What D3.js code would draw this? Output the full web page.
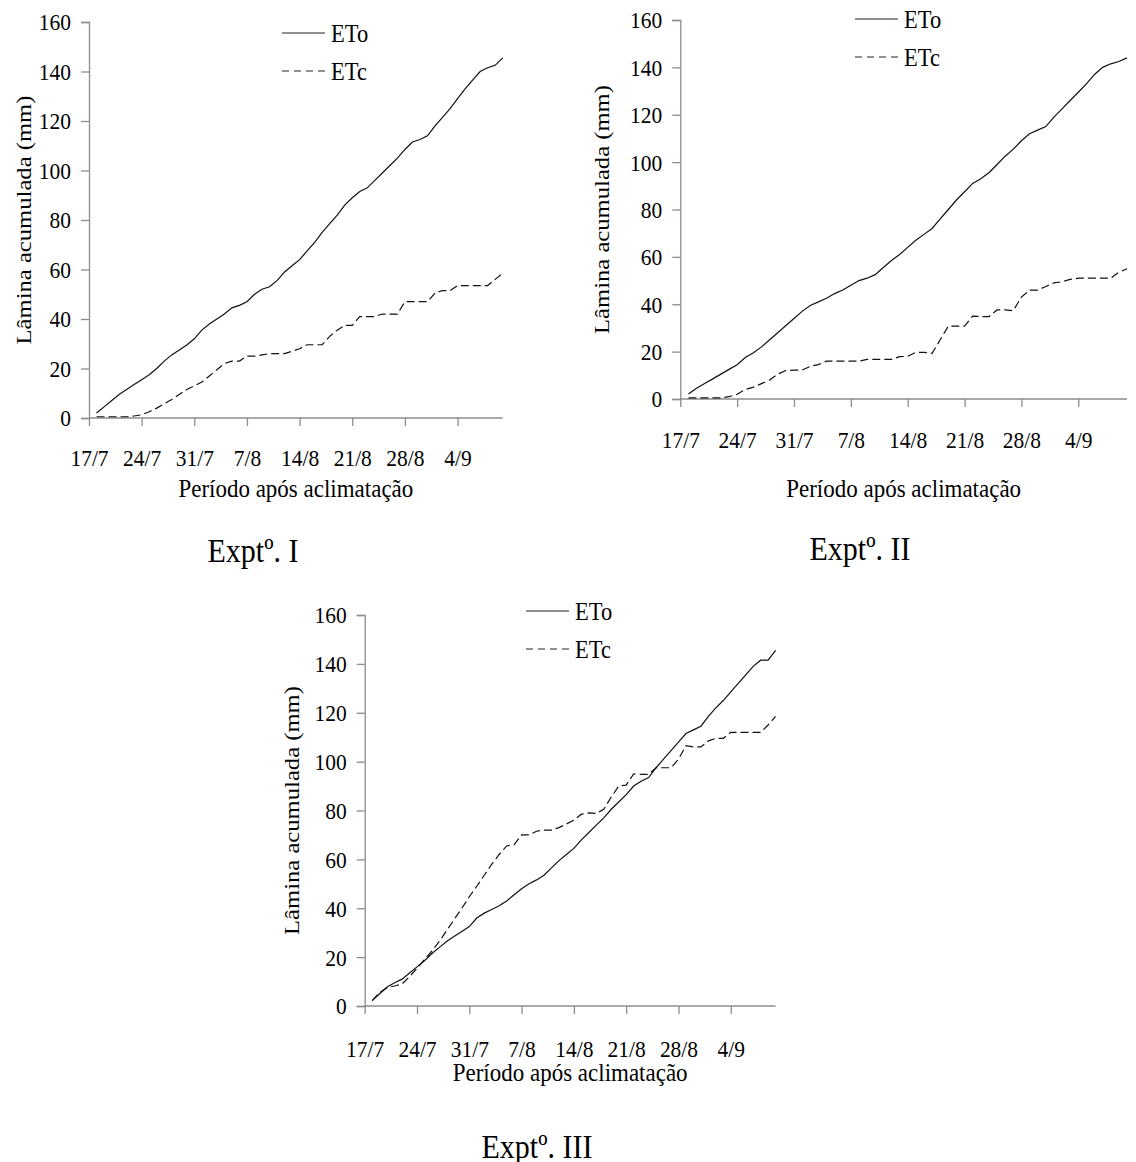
<!DOCTYPE html>
<html>
<head>
<meta charset="utf-8">
<script src="https://cdn.jsdelivr.net/npm/d3@7"></script>
<style>
  body { margin: 0; background: #fff; }
  text { font-family: "Liberation Serif", "Times New Roman", serif; fill: #000; }
</style>
</head>
<body>
<script>
// Days after 17/7 (one value per day, 18/7 .. 10/9)
var days = d3.range(1, 56);

// x tick positions (days after 17/7) and their labels
var tickDays = [0, 7, 14, 21, 28, 35, 42, 49];
var tickLabels = ["17/7", "24/7", "31/7", "7/8", "14/8", "21/8", "28/8", "4/9"];
var yTicks = [0, 20, 40, 60, 80, 100, 120, 140, 160];
var seriesNames = ["ETo", "ETc"];
var titles = ["Exptº. I", "Exptº. II", "Exptº. III"];

// Expt I
var eto1 = [2, 4.5, 7, 9.5, 11.5, 13.5, 15.5, 17.5, 20, 23, 25.5, 27.5, 29.5, 32,
  35.5, 38, 40, 42, 44.5, 45.5, 47, 50, 52, 53, 55.5, 59, 61.5, 64, 67.5, 71, 75,
  78.5, 82, 86, 89, 91.5, 93, 96, 99, 102, 105, 108.5, 111.5, 112.5, 114, 118,
  121.5, 125, 129, 133, 136.5, 140, 141.5, 142.5, 145.5];
var etc1 = [0.5, 0.5, 0.5, 0.5, 0.5, 0.8, 1.3, 2.5, 4, 5.8, 7.5, 9.5, 11.5, 13,
  14.5, 17, 19.5, 22, 23, 23, 25, 25, 25.5, 26, 26, 26, 27, 28, 29.6, 29.6, 29.6,
  33, 35.5, 37.4, 37.4, 41, 41, 41, 42, 42, 42, 47, 47, 47, 47, 50.5, 51.5, 51.5,
  53.5, 53.5, 53.5, 53.5, 53.5, 56, 58.5];

// Expt II
var eto2 = [2.1, 4.5, 6.5, 8.5, 10.5, 12.5, 14.5, 17.5, 19.5, 22, 25, 28, 31, 34,
  37, 39.5, 41, 42.5, 44.5, 46, 48, 50, 51, 52.5, 55.5, 58.5, 61, 64, 67, 69.5,
  72, 76, 80, 84, 87.5, 91, 93, 95.5, 99, 102.5, 105.5, 109, 112, 113.5, 115,
  119, 122.5, 126, 129.5, 133, 137, 140, 141.5, 142.5, 144];
var etc2 = [0.5, 0.5, 0.5, 0.5, 0.5, 1, 2, 4, 5, 6.5, 8, 10.5, 12, 12.2, 12.2,
  13.8, 14.5, 16, 16, 16, 16, 16, 16.7, 16.7, 16.7, 16.7, 17.9, 18, 19.7, 19.7,
  19.3, 25, 30.8, 30.8, 30.8, 35, 34.8, 34.8, 37.6, 37.6, 37.3, 43, 46, 46, 47.5,
  49, 49.5, 50.5, 51, 51, 51, 51, 51, 53.5, 55];

// Expt III
var eto3 = [2.2, 5, 7.8, 9.5, 11, 13.5, 16, 18.5, 21.5, 24, 26.5, 28.5, 30.5, 32.5,
  36, 38, 39.5, 41, 43, 45.5, 48, 50, 51.6, 53.5, 56.5, 59.5, 62, 64.5, 68, 71,
  74, 77, 80.5, 83.5, 86.5, 90, 92, 93.5, 97.5, 101, 104.5, 108, 111.5, 113,
  114.5, 118.5, 122, 125, 128.5, 132, 135.5, 139, 141.5, 141.5, 145.5];
var etc3 = [2.2, 5.5, 7.5, 8.2, 9, 12, 15.4, 19, 22.5, 26.5, 31, 35.5, 40, 44.7,
  49, 53.5, 58, 62, 65.5, 66, 70, 70, 71.5, 72, 72, 73, 74.5, 76, 78.5, 79, 78.8,
  80.5, 85.5, 90, 90.4, 95, 94.8, 94.8, 97.5, 97.5, 97.5, 101, 106.5, 106, 106,
  108.5, 109.5, 109.5, 112, 112, 112, 112, 112, 115, 118.5];

var width = 1136;
var height = 1162;

// the original figure is slightly stretched vertically
var sy = 1.12;

var svg = d3.select("body")
  .append("svg")
  .attr("width", width)
  .attr("height", height);

// panel layout (pixel boxes of each plot area)
var panels = [
  { x0: 89, x1: 502.7, y0: 418, y1: 22, eto: eto1, etc: etc1,
    tickY: 48, xTitleY: 79, titleX: 253, titleY: 562, yTitleX: 31,
    legX: 282, legY: 33 },
  { x0: 680.3, x1: 1127, y0: 399, y1: 20, eto: eto2, etc: etc2,
    tickY: 49, xTitleY: 98, titleX: 860, titleY: 560, yTitleX: 609,
    legX: 855, legY: 19 },
  { x0: 364.7, x1: 775.6, y0: 1006, y1: 615, eto: eto3, etc: etc3,
    tickY: 51, xTitleY: 75, titleX: 537, titleY: 1158, yTitleX: 299,
    legX: 526, legY: 611 }
];

var axisColor = "#8c8c8c";

// put a text at (x, y) with the vertical stretch
function place(sel, x, y) {
  sel.attr("x", 0).attr("y", 0)
    .attr("transform", "translate(" + x + "," + y + ") scale(1," + sy + ")");
}

panels.forEach(function(p, k) {
  var x = d3.scaleLinear().domain([0, 55]).range([p.x0, p.x1]);
  var y = d3.scaleLinear().domain([0, 160]).range([p.y0, p.y1]);

  var g = svg.append("g");

  // y axis
  var yAxis = g.append("g")
    .attr("transform", "translate(" + p.x0 + ",0)")
    .call(d3.axisLeft(y).tickValues(yTicks).tickSize(8).tickPadding(10));
  yAxis.attr("font-family", null).attr("font-size", null);
  yAxis.selectAll("line, path").attr("stroke", axisColor).attr("stroke-width", 1.3);
  yAxis.selectAll("text")
    .attr("dy", null)
    .attr("dominant-baseline", "central")
    .style("font-size", "21.5px")
    .attr("fill", "#000")
    .each(function() { place(d3.select(this), -18, 0); });

  // x axis
  var xAxis = g.append("g")
    .attr("transform", "translate(0," + p.y0 + ")")
    .call(d3.axisBottom(x).tickValues(tickDays).tickSize(8)
      .tickFormat(function(d, i) { return tickLabels[i]; }));
  xAxis.attr("font-family", null).attr("font-size", null);
  xAxis.select(".domain").attr("d", "M" + p.x0 + ",0H" + p.x1);
  xAxis.selectAll("line, path").attr("stroke", axisColor).attr("stroke-width", 1.3);
  xAxis.selectAll("text")
    .attr("dy", null)
    .style("font-size", "21.5px")
    .attr("fill", "#000")
    .each(function() { place(d3.select(this), 0, p.tickY); });

  // axis titles
  g.append("text")
    .attr("text-anchor", "middle")
    .style("font-size", "23px")
    .text("Período após aclimatação")
    .call(place, (p.x0 + p.x1) / 2, p.y0 + p.xTitleY);

  g.append("text")
    .attr("transform", "translate(" + p.yTitleX + "," + (p.y0 + p.y1) / 2 + ") rotate(-90) scale(" + sy + ",1)")
    .attr("text-anchor", "middle")
    .style("font-size", "22px")
    .text("Lâmina acumulada (mm)");

  // lines
  var line = d3.line()
    .x(function(d, i) { return x(days[i]); })
    .y(function(d) { return y(d); });

  g.append("path")
    .datum(p.eto)
    .attr("d", line)
    .attr("fill", "none")
    .attr("stroke", "#111")
    .attr("stroke-width", 1.2);

  g.append("path")
    .datum(p.etc)
    .attr("d", line)
    .attr("fill", "none")
    .attr("stroke", "#111")
    .attr("stroke-width", 1.2)
    .attr("stroke-dasharray", "8,4");

  // legend
  var legend = g.selectAll(".leg")
    .data(seriesNames)
    .enter()
    .append("g")
    .attr("transform", function(d, i) { return "translate(" + p.legX + "," + (p.legY + i * 38) + ")"; });
  legend.append("line")
    .attr("x1", 0).attr("x2", 43)
    .attr("stroke", "#222")
    .attr("stroke-width", 1.2)
    .attr("stroke-dasharray", function(d, i) { return i ? "7,5" : null; });
  legend.append("text")
    .style("font-size", "22.5px")
    .text(function(d) { return d; })
    .each(function() { place(d3.select(this), 49, 9); });

  // panel title
  g.append("text")
    .attr("text-anchor", "middle")
    .style("font-size", "30px")
    .text(titles[k])
    .call(place, p.titleX, p.titleY);
});
</script>
</body>
</html>
